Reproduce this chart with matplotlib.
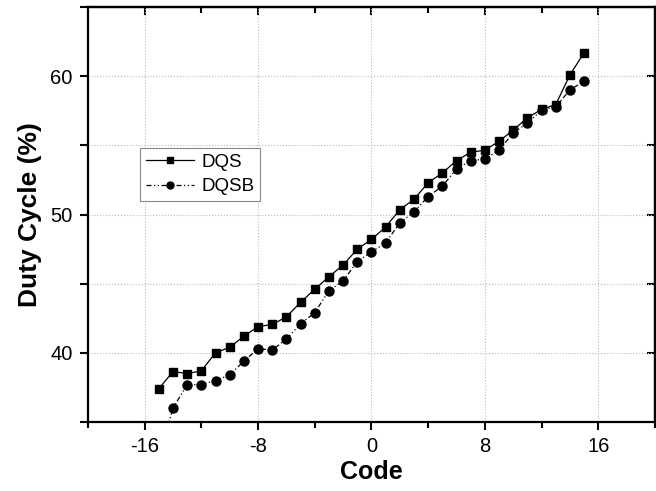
import numpy as np
import matplotlib.pyplot as plt
from matplotlib.ticker import FixedLocator, NullFormatter

plt.rcParams['font.family'] = ['Liberation Sans', 'DejaVu Sans']

# data
code_dqs = list(range(-15, 16))
dqs = [37.4, 38.65, 38.5, 38.7, 40.0, 40.4, 41.2, 41.9, 42.05, 42.6,
       43.65, 44.6, 45.5, 46.35, 47.5, 48.2, 49.1, 50.35, 51.1, 52.3,
       53.0, 53.9, 54.5, 54.65, 55.3, 56.1, 57.0, 57.6, 57.95, 60.1, 61.7]

code_dqsb = list(range(-15, 16))
dqsb = [32.4, 36.0, 37.7, 37.7, 38.0, 38.4, 39.4, 40.3, 40.2, 41.0,
        42.1, 42.9, 44.5, 45.2, 46.6, 47.3, 47.95, 49.4, 50.2, 51.3,
        52.05, 53.3, 53.9, 54.0, 54.65, 55.9, 56.6, 57.55, 57.8, 59.0, 59.65]

fig = plt.figure(figsize=(6.56, 4.91), dpi=100, facecolor='white')
ax = fig.add_axes([0.134, 0.1405, 0.8645, 0.8452])

ax.plot(code_dqs, dqs, color='black', lw=0.9, marker='s', ms=6,
        label='DQS')
ax.plot(code_dqsb, dqsb, color='black', lw=0.9, ls=(0, (4, 2, 1, 2, 1, 2)),
        marker='o', ms=6.5, label='DQSB')

ax.set_xlim(-20, 20)
ax.set_ylim(35, 65)

ax.xaxis.set_major_locator(FixedLocator([-16, -8, 0, 8, 16]))
ax.xaxis.set_minor_locator(FixedLocator([-20, -12, -4, 4, 12, 20]))
ax.yaxis.set_major_locator(FixedLocator([40, 50, 60]))
ax.yaxis.set_minor_locator(FixedLocator([35, 45, 55, 65]))

ax.grid(True, which='major', color='#bbbbbb', ls=':', lw=0.8)
ax.grid(True, which='minor', axis='y', color='#bbbbbb', ls=':', lw=0.8)
ax.set_axisbelow(True)

for s in ax.spines.values():
    s.set_linewidth(1.6)

ax.tick_params(which='major', direction='out', length=6, width=1.5,
               labelsize=14.5, pad=5)
ax.tick_params(which='minor', direction='out', length=4, width=1.5)
ax.tick_params(axis='y', which='minor', length=6)
ax.set_xticklabels(['-16', '-8', '0', '8', '16'])

# mirrored inward ticks on top and right
top = ax.secondary_xaxis('top')
top.xaxis.set_major_locator(FixedLocator([-16, -8, 0, 8, 16]))
top.xaxis.set_minor_locator(FixedLocator([-12, -4, 4, 12]))
top.xaxis.set_major_formatter(NullFormatter())
top.tick_params(which='major', direction='in', length=6, width=1.5)
top.tick_params(which='minor', direction='in', length=4, width=1.5)
top.spines['top'].set_linewidth(1.6)

right = ax.secondary_yaxis('right')
right.yaxis.set_major_locator(FixedLocator([40, 45, 50, 55, 60]))
right.yaxis.set_minor_locator(FixedLocator([]))
right.yaxis.set_major_formatter(NullFormatter())
right.tick_params(which='major', direction='in', length=6, width=1.5)
right.spines['right'].set_linewidth(1.6)

ax.set_xlabel('Code', fontsize=18, fontweight='bold', labelpad=3)
ax.set_ylabel('Duty Cycle (%)', fontsize=19, fontweight='bold', labelpad=6)

leg = ax.legend(loc='upper left', bbox_to_anchor=(0.092, 0.66), fontsize=13.5,
                frameon=True, fancybox=False, edgecolor='#888888',
                framealpha=1, borderpad=0.3, handlelength=2.55,
                handletextpad=0.4, labelspacing=0.4, borderaxespad=0)
leg.get_frame().set_linewidth(0.8)
for h in leg.legend_handles:
    h.set_markersize(5)

fig.savefig('out.png', dpi=100, facecolor='white')
